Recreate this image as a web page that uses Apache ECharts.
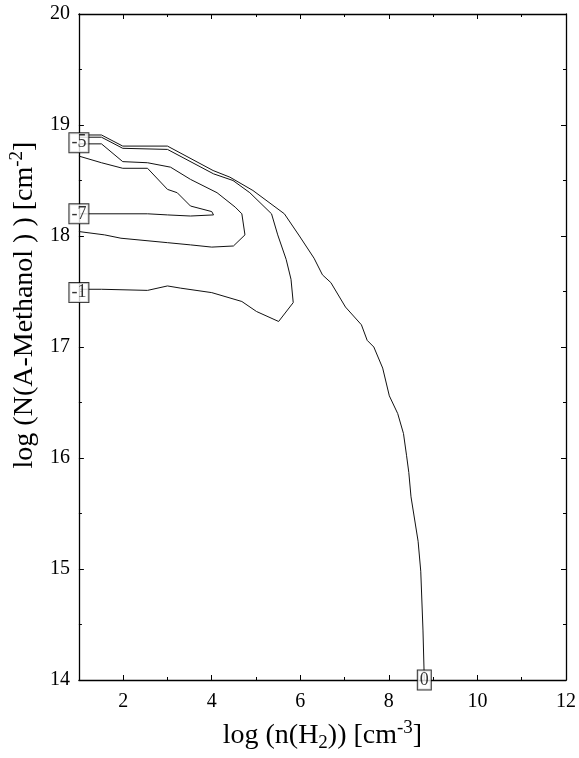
<!DOCTYPE html>
<html>
<head>
<meta charset="utf-8">
<script src="https://cdn.jsdelivr.net/npm/echarts@6/dist/echarts.min.js"></script>
<style>
  html, body { margin: 0; padding: 0; background: #fff; }
  #chart { width: 579px; height: 758px; }
</style>
</head>
<body>
<div id="chart"></div>
<script>
// contour lines: [log n(H2), log N]
var contour0 = [[1, 18.91], [1.51, 18.91], [1.99, 18.81], [3.0, 18.81], [4.03, 18.59], [4.41, 18.53],
  [4.93, 18.41], [5.64, 18.2], [5.98, 18.0], [6.31, 17.8], [6.5, 17.65], [6.69, 17.58], [7.02, 17.36],
  [7.38, 17.2], [7.51, 17.06], [7.66, 17.0], [7.86, 16.81], [8.01, 16.56], [8.2, 16.4], [8.33, 16.22],
  [8.4, 16.02], [8.45, 15.87], [8.5, 15.65], [8.66, 15.25], [8.72, 14.98], [8.77, 14.45], [8.8, 14.0]];
var contourM1 = [[1, 18.89], [1.51, 18.89], [1.99, 18.79], [3.0, 18.78], [4.04, 18.56], [4.48, 18.5],
  [4.86, 18.39], [5.35, 18.2], [5.49, 18.01], [5.68, 17.79], [5.79, 17.61], [5.84, 17.4], [5.51, 17.23],
  [5.01, 17.32], [4.68, 17.41], [4.0, 17.49], [3.3, 17.53], [3.0, 17.55], [2.55, 17.51], [1.51, 17.52], [1, 17.52]];
var contourM5 = [[1, 18.83], [1.51, 18.83], [1.99, 18.67], [2.55, 18.66], [3.07, 18.62], [3.52, 18.51],
  [4.12, 18.39], [4.53, 18.26], [4.68, 18.2], [4.75, 18.01], [4.49, 17.91], [4.0, 17.9], [3.52, 17.92],
  [3.0, 17.94], [1.95, 17.98], [1.58, 18.01], [1, 18.04]];
var contourM7 = [[1, 18.72], [1.51, 18.66], [1.99, 18.61], [2.55, 18.61], [3.0, 18.42], [3.22, 18.39],
  [3.52, 18.27], [4.0, 18.22], [4.04, 18.19], [3.52, 18.18], [3.0, 18.19], [2.55, 18.2], [1, 18.2]];

// contour level labels
var levelNames = ['-5', '-7', '-1', '0'];
var levelX = [1, 1, 1, 8.8];
var levelY = [18.84, 18.2, 17.49, 14.0];

// ticks
var xMajorTicks = [2, 4, 6, 8, 10, 12];
var yTicks = [14, 15, 16, 17, 18, 19, 20];

var chart = echarts.init(document.getElementById('chart'));
var serif = "'Liberation Serif', 'DejaVu Serif', serif";

var labelData = levelNames.map(function (n, i) {
  return { name: n, value: [levelX[i], levelY[i]] };
});

function lineSeries(data) {
  return {
    type: 'line',
    data: data,
    symbol: 'none',
    clip: false,
    lineStyle: { color: '#111', width: 1 },
    z: 3
  };
}

var minorX = {
  type: 'value', min: 1, max: 12, interval: 1,
  axisLine: { show: false },
  axisTick: { show: true, inside: true, length: 3, lineStyle: { color: '#000' } },
  axisLabel: { show: false },
  splitLine: { show: false }
};

chart.setOption({
  animation: false,
  backgroundColor: '#fff',
  grid: { left: 77, right: 10, top: 14, bottom: 68 },
  xAxis: [
    {
      type: 'value', position: 'bottom', min: 1, max: 12,
      axisLine: { show: true, onZero: false, lineStyle: { color: '#000', width: 1.3 } },
      axisTick: { show: true, inside: true, length: 5, customValues: xMajorTicks, lineStyle: { color: '#000' } },
      axisLabel: { customValues: xMajorTicks, color: '#000', fontFamily: serif, fontSize: 20, margin: 12 },
      splitLine: { show: false },
      name: '{t|log (n(H}{sub|2}{t|)) [cm}{sup|-3}{t|]}',
      nameLocation: 'middle',
      nameGap: 39,
      nameTextStyle: {
        rich: {
          t: { fontFamily: serif, fontSize: 28, color: '#000', lineHeight: 34 },
          sub: { fontFamily: serif, fontSize: 19, color: '#000', lineHeight: 19, verticalAlign: 'bottom' },
          sup: { fontFamily: serif, fontSize: 19, color: '#000', lineHeight: 19, verticalAlign: 'top' }
        }
      }
    },
    Object.assign({}, minorX, { position: 'bottom' }),
    {
      type: 'value', position: 'top', min: 1, max: 12,
      axisLine: { show: true, onZero: false, lineStyle: { color: '#000', width: 1.3 } },
      axisTick: { show: true, inside: true, length: 5, customValues: xMajorTicks, lineStyle: { color: '#000' } },
      axisLabel: { show: false },
      splitLine: { show: false }
    },
    Object.assign({}, minorX, { position: 'top' })
  ],
  yAxis: [
    {
      type: 'value', position: 'left', min: 14, max: 20, interval: 1,
      axisLine: { show: true, onZero: false, lineStyle: { color: '#000', width: 1.3 } },
      axisTick: { show: true, inside: true, length: 5, lineStyle: { color: '#000' } },
      minorTick: { show: true, splitNumber: 2, length: 3, lineStyle: { color: '#000' } },
      axisLabel: { color: '#000', fontFamily: serif, fontSize: 20, margin: 9 },
      splitLine: { show: false },
      name: '{t|log (N(A-Methanol ) ) [cm}{sup|-2}{t|]}',
      nameLocation: 'middle',
      nameRotate: 90,
      nameGap: 24,
      nameTextStyle: {
        padding: [0, 0, 0, 84],
        rich: {
          t: { fontFamily: serif, fontSize: 28, color: '#000', lineHeight: 34 },
          sup: { fontFamily: serif, fontSize: 19, color: '#000', lineHeight: 19, verticalAlign: 'top' }
        }
      }
    },
    {
      type: 'value', position: 'right', min: 14, max: 20, interval: 1,
      axisLine: { show: true, onZero: false, lineStyle: { color: '#000', width: 1.3 } },
      axisTick: { show: true, inside: true, length: 5, lineStyle: { color: '#000' } },
      minorTick: { show: true, splitNumber: 2, length: 3, lineStyle: { color: '#000' } },
      axisLabel: { show: false },
      splitLine: { show: false }
    }
  ],
  series: [
    lineSeries(contour0),
    lineSeries(contourM1),
    lineSeries(contourM5),
    lineSeries(contourM7),
    {
      type: 'scatter',
      data: labelData,
      symbolSize: 1,
      itemStyle: { color: 'transparent' },
      z: 10,
      label: {
        show: true,
        position: 'inside',
        formatter: '{b}',
        color: '#000',
        textBorderWidth: 0,
        fontFamily: serif,
        fontSize: 18,
        lineHeight: 18,
        backgroundColor: '#fff',
        borderColor: '#000',
        borderWidth: 1,
        padding: [1, 2, 0, 2]
      }
    }
  ]
});
</script>
</body>
</html>
